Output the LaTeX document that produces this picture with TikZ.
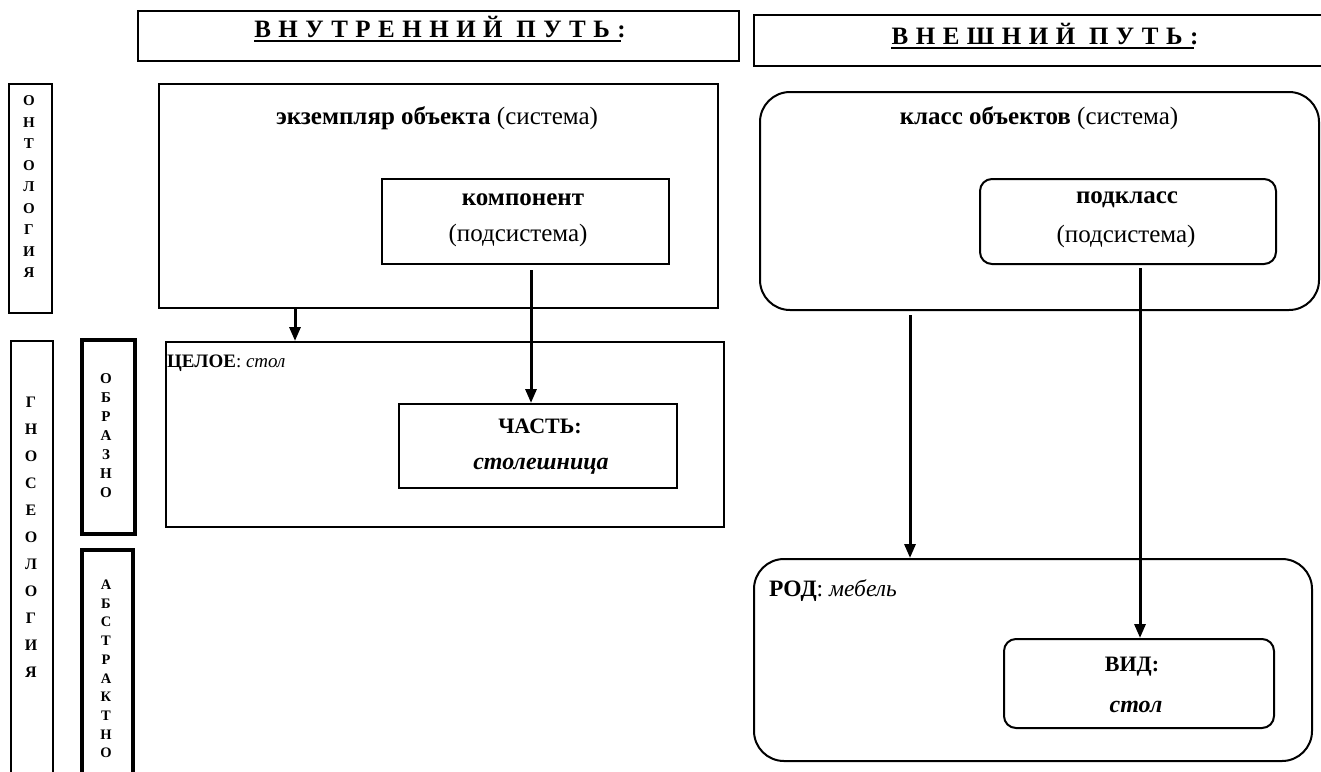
\documentclass[tikz,border=0pt]{standalone}
\usepackage{fontspec}
\setmainfont{Liberation Serif}
\newfontfamily\spacedfont[LetterSpace=30]{Liberation Serif}
\usetikzlibrary{arrows.meta}
\begin{document}
\begin{tikzpicture}[x=1pt,y=-1pt,
  box/.style={draw, line width=2pt, inner sep=0pt, anchor=north west},
  thickbox/.style={draw, line width=4pt, inner sep=0pt, anchor=north west},
  rbox/.style={box, rounded corners=30pt},
  srbox/.style={box, rounded corners=12pt},
  arr/.style={-{Triangle[length=14pt,width=11pt]}, line width=3pt},
  big/.style={inner sep=0pt, font=\fontsize{25}{29}\selectfont},
  mid/.style={inner sep=0pt, font=\fontsize{22}{26}\selectfont},
  small/.style={inner sep=0pt, anchor=west},
  head/.style={inner sep=0pt, anchor=base, font=\spacedfont\bfseries\fontsize{25}{29}\selectfont},
  vlet/.style={inner sep=0pt, align=center}
]
\useasboundingbox (0,0) rectangle (1321,771);
\clip (0,0) rectangle (1321,771);

% headers
\node[box, minimum width=601pt, minimum height=50pt] (h1) at (137,10) {};
\node[box, minimum width=590pt, minimum height=51pt] (h2) at (753,14) {};
\node[head] (h1t) at (440,37) {ВНУТРЕННИЙ ПУТЬ:};
\node[head] (h2t) at (1045,44) {ВНЕШНИЙ ПУТЬ:};
\draw[line width=2.2pt] ([yshift=-4pt]h1t.base west) -- ([yshift=-4pt,xshift=-5pt]h1t.base east);
\draw[line width=2.2pt] ([yshift=-4pt]h2t.base west) -- ([yshift=-4pt,xshift=-5pt]h2t.base east);

% left vertical labels
\node[box, minimum width=43pt, minimum height=229pt] (ont) at (8,83) {};
\node[vlet, font=\bfseries\fontsize{15}{21.5}\selectfont] (ontt) at (29,187)
  {О\\Н\\Т\\О\\Л\\О\\Г\\И\\Я};
\node[box, minimum width=42pt, minimum height=460pt] (gno) at (10,340) {};
\node[vlet, font=\bfseries\fontsize{16}{27}\selectfont] (gnot) at (31,537)
  {Г\\Н\\О\\С\\Е\\О\\Л\\О\\Г\\И\\Я};
\node[thickbox, minimum width=53pt, minimum height=194pt] (obr) at (80,338) {};
\node[vlet, font=\bfseries\fontsize{15}{19}\selectfont] (obrt) at (106,436)
  {О\\Б\\Р\\А\\З\\Н\\О};
\node[thickbox, minimum width=51pt, minimum height=250pt] (abs) at (80,548) {};
\node[vlet, font=\bfseries\fontsize{14.5}{18.7}\selectfont] (abst) at (106,669)
  {А\\Б\\С\\Т\\Р\\А\\К\\Т\\Н\\О};

% inner path
\node[box, minimum width=559pt, minimum height=224pt] (inst) at (158,83) {};
\node[big] (instt) at (437,118) {\textbf{экземпляр объекта} (система)};
\node[box, minimum width=287pt, minimum height=85pt] (comp) at (381,178) {};
\node[big] (compa) at (523,200) {\textbf{компонент}};
\node[big] (compb) at (518,235) {(подсистема)};

\node[box, minimum width=558pt, minimum height=185pt] (whole) at (165,341) {};
\node[small, font=\fontsize{19}{23}\selectfont] (wholet) at (167,363) {\textbf{ЦЕЛОЕ}: \textit{стол}};
\node[box, minimum width=278pt, minimum height=84pt] (part) at (398,403) {};
\node[mid] (parta) at (540,426) {\textbf{ЧАСТЬ:}};
\node[mid, font=\fontsize{24}{28}\selectfont] (partb) at (541,466) {\textbf{\textit{столешница}}};

% outer path
\node[rbox, minimum width=559pt, minimum height=218pt] (cls) at (759,91) {};
\node[big] (clst) at (1039,118) {\textbf{класс объектов} (система)};
\node[srbox, minimum width=296pt, minimum height=85pt] (sub) at (979,178) {};
\node[big] (suba) at (1127,200) {\textbf{подкласс}};
\node[big] (subb) at (1126,236) {(подсистема)};

\node[rbox, minimum width=558pt, minimum height=202pt] (gen) at (753,558) {};
\node[small, font=\fontsize{23.5}{27}\selectfont] (gent) at (769,591) {\textbf{РОД}: \textit{мебель}};
\node[srbox, minimum width=270pt, minimum height=89pt] (spec) at (1003,638) {};
\node[mid] (speca) at (1132,667) {\textbf{ВИД:}};
\node[mid, font=\fontsize{24}{28}\selectfont] (specb) at (1136,707) {\textbf{\textit{стол}}};

% arrows
\coordinate (xa) at (295,0);
\coordinate (xb) at (531,0);
\coordinate (xc) at (910,0);
\coordinate (xd) at (1140,0);
\draw[arr] (inst.south -| xa) -- (whole.north -| xa);
\draw[arr] ([yshift=-5pt]comp.south -| xb) -- (part.north -| xb);
\draw[arr] ([yshift=-4pt]cls.south -| xc) -- (gen.north -| xc);
\draw[arr] ([yshift=-3pt]sub.south -| xd) -- (spec.north -| xd);
\end{tikzpicture}
\end{document}
